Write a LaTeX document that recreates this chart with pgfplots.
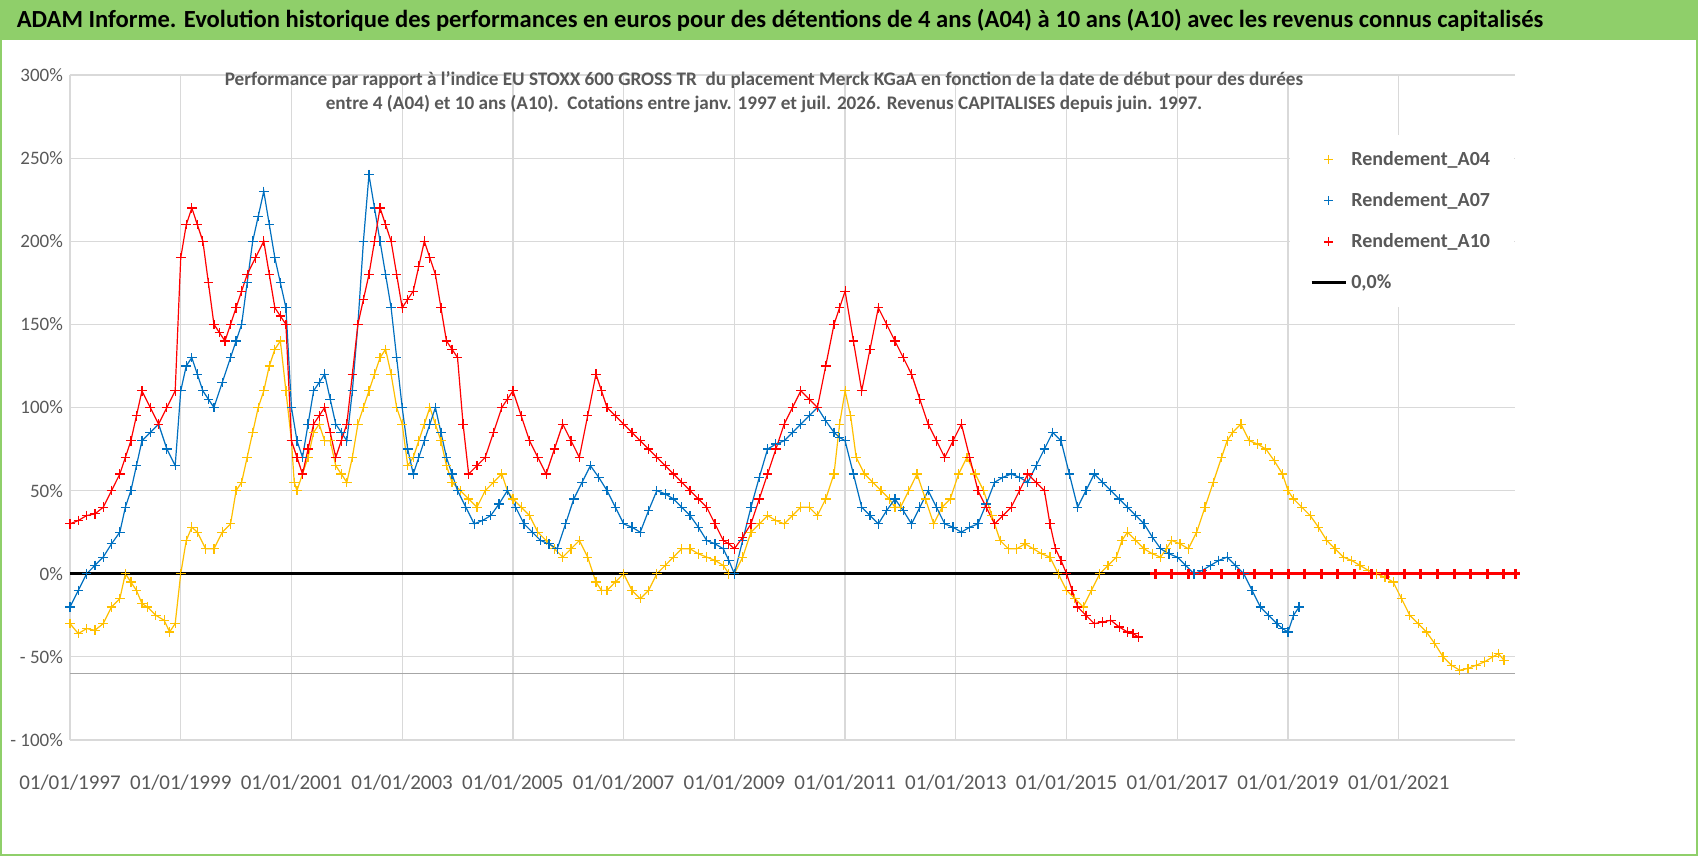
\documentclass[border=0pt]{standalone}
\usepackage{pgfplots}
\pgfplotsset{compat=1.18}
\usepackage{fontspec}
\setmainfont{Carlito}
\definecolor{cA}{HTML}{FFC000}
\definecolor{cB}{HTML}{0070C0}
\definecolor{cC}{HTML}{FF0000}
\definecolor{grn}{HTML}{8FCF6A}
\definecolor{txt}{HTML}{595959}
\pgfplotsset{markleg/.style={legend image code/.code={\draw[mark=+,mark size=2.2pt,line width=0.7pt] plot coordinates {(0.3cm,0cm)};}}}
\begin{document}
\begin{tikzpicture}[x=1pt,y=1pt]
\fill[white] (0,0) rectangle (849,428);
\fill[grn] (0,408) rectangle (849,428);
\draw[grn,line width=1pt] (0.5,0.5) rectangle (848.5,427.5);
\node[font=\fontsize{12.3}{14}\selectfont\bfseries] at (390,418) {ADAM Informe. Evolution historique des performances en euros pour des détentions de 4 ans (A04) à 10 ans (A10) avec les revenus connus capitalisés};
\begin{axis}[at={(35pt,58pt)},anchor=south west,scale only axis,width=722.5pt,height=332.5pt,
 xmin=1997,xmax=2023.1,ymin=-100,ymax=300,
 axis line style={draw=none},clip=false,
 xtick={1997,1999,...,2021},
 xticklabels={01/01/1997,01/01/1999,01/01/2001,01/01/2003,01/01/2005,01/01/2007,01/01/2009,01/01/2011,01/01/2013,01/01/2015,01/01/2017,01/01/2019,01/01/2021},
 ytick={-100,-50,0,50,100,150,200,250,300},
 yticklabels={- 100\%,- 50\%,0\%,50\%,100\%,150\%,200\%,250\%,300\%},
 grid=major,major grid style={draw=black!15,line width=0.6pt},
 tick style={draw=none},
 yticklabel style={font=\fontsize{9.5}{11}\selectfont,text=txt},
 xticklabel style={font=\fontsize{10.5}{12}\selectfont,text=txt,yshift=-14pt},
 legend style={at={(0.844,0.91)},anchor=north west,draw=none,fill=white,font=\fontsize{10}{12}\selectfont\bfseries,text=txt,row sep=8pt,inner xsep=10pt,inner ysep=6pt,cells={anchor=west}},
 legend cell align=left,
 every axis plot/.append style={line width=0.6pt},
]
\addplot[black!35,line width=0.7pt,forget plot] coordinates {(1997,-60) (2023.1,-60)};
\addplot[cA,mark=+,mark size=2.4pt,markleg] coordinates {
(1997.0,-30)(1997.15,-36)(1997.3,-33)(1997.45,-34)(1997.6,-30)(1997.75,-20)(1997.9,-15)(1998.0,0)(1998.1,-5)(1998.2,-10)(1998.3,-18)(1998.4,-20)(1998.55,-25)(1998.7,-28)(1998.8,-35)(1998.9,-30)(1999.0,0)(1999.1,20)(1999.2,28)(1999.3,25)(1999.45,15)(1999.6,15)(1999.75,25)(1999.9,30)(2000.0,50)(2000.1,55)(2000.2,70)(2000.3,85)(2000.4,100)(2000.5,110)(2000.6,125)(2000.7,135)(2000.8,140)(2000.9,110)(2001.0,80)(2001.05,55)(2001.1,50)(2001.2,60)(2001.3,70)(2001.4,85)(2001.5,90)(2001.6,80)(2001.7,80)(2001.8,65)(2001.9,60)(2002.0,55)(2002.1,70)(2002.2,90)(2002.3,100)(2002.4,110)(2002.5,120)(2002.6,130)(2002.7,135)(2002.8,120)(2002.9,100)(2003.0,90)(2003.1,65)(2003.2,70)(2003.3,80)(2003.4,90)(2003.5,100)(2003.6,90)(2003.7,80)(2003.8,65)(2003.9,55)(2004.05,50)(2004.2,45)(2004.35,40)(2004.5,50)(2004.65,55)(2004.8,60)(2004.9,50)(2005.0,45)(2005.15,40)(2005.3,35)(2005.45,25)(2005.6,20)(2005.75,15)(2005.9,10)(2006.05,15)(2006.2,20)(2006.35,10)(2006.5,-5)(2006.6,-10)(2006.7,-10)(2006.85,-5)(2007.0,0)(2007.15,-10)(2007.3,-15)(2007.45,-10)(2007.6,0)(2007.75,5)(2007.9,10)(2008.05,15)(2008.2,15)(2008.35,12)(2008.5,10)(2008.65,8)(2008.8,5)(2008.9,0)(2009.0,0)(2009.15,10)(2009.3,25)(2009.45,30)(2009.6,35)(2009.75,32)(2009.9,30)(2010.05,35)(2010.2,40)(2010.35,40)(2010.5,35)(2010.65,45)(2010.8,60)(2010.9,90)(2011.0,110)(2011.1,95)(2011.2,70)(2011.35,60)(2011.5,55)(2011.65,50)(2011.8,45)(2011.9,40)(2012.0,40)(2012.15,50)(2012.3,60)(2012.45,45)(2012.6,30)(2012.75,40)(2012.9,45)(2013.05,60)(2013.2,70)(2013.35,60)(2013.5,50)(2013.65,35)(2013.8,20)(2013.95,15)(2014.1,15)(2014.25,18)(2014.4,15)(2014.55,12)(2014.7,10)(2014.85,0)(2015.0,-10)(2015.15,-15)(2015.3,-20)(2015.45,-10)(2015.6,0)(2015.75,5)(2015.9,10)(2016.0,20)(2016.1,25)(2016.25,20)(2016.4,15)(2016.55,12)(2016.7,10)(2016.8,15)(2016.9,20)(2017.05,18)(2017.2,15)(2017.35,25)(2017.5,40)(2017.65,55)(2017.8,70)(2017.9,80)(2018.0,85)(2018.15,90)(2018.3,80)(2018.45,78)(2018.6,75)(2018.75,68)(2018.9,60)(2019.0,50)(2019.1,45)(2019.25,40)(2019.4,35)(2019.55,28)(2019.7,20)(2019.85,15)(2020.0,10)(2020.15,8)(2020.3,5)(2020.45,2)(2020.6,0)(2020.75,-2)(2020.9,-5)(2021.05,-15)(2021.2,-25)(2021.35,-30)(2021.5,-35)(2021.65,-42)(2021.8,-50)(2021.95,-55)(2022.1,-58)(2022.25,-57)(2022.4,-55)(2022.55,-53)(2022.7,-50)(2022.8,-48)(2022.9,-52)};
\addlegendentry{Rendement\_A04}
\addplot[cB,mark=+,mark size=2.4pt,markleg] coordinates {
(1997.0,-20)(1997.15,-10)(1997.3,0)(1997.45,5)(1997.6,10)(1997.75,18)(1997.9,25)(1998.0,40)(1998.1,50)(1998.2,65)(1998.3,80)(1998.45,85)(1998.6,90)(1998.75,75)(1998.9,65)(1999.0,110)(1999.1,125)(1999.2,130)(1999.3,120)(1999.4,110)(1999.5,105)(1999.6,100)(1999.75,115)(1999.9,130)(2000.0,140)(2000.1,150)(2000.2,175)(2000.3,200)(2000.4,215)(2000.5,230)(2000.6,210)(2000.7,190)(2000.8,175)(2000.9,160)(2001.0,100)(2001.1,80)(2001.2,70)(2001.3,90)(2001.4,110)(2001.5,115)(2001.6,120)(2001.7,105)(2001.8,90)(2001.9,85)(2002.0,80)(2002.1,110)(2002.2,150)(2002.3,200)(2002.4,240)(2002.5,220)(2002.6,200)(2002.7,180)(2002.8,160)(2002.9,130)(2003.0,100)(2003.1,75)(2003.2,60)(2003.3,70)(2003.4,80)(2003.5,90)(2003.6,100)(2003.7,85)(2003.8,70)(2003.9,60)(2004.0,50)(2004.15,40)(2004.3,30)(2004.45,32)(2004.6,35)(2004.75,42)(2004.9,50)(2005.05,40)(2005.2,30)(2005.35,25)(2005.5,20)(2005.65,18)(2005.8,15)(2005.95,30)(2006.1,45)(2006.25,55)(2006.4,65)(2006.55,58)(2006.7,50)(2006.85,40)(2007.0,30)(2007.15,28)(2007.3,25)(2007.45,38)(2007.6,50)(2007.75,48)(2007.9,45)(2008.05,40)(2008.2,35)(2008.35,28)(2008.5,20)(2008.65,18)(2008.8,15)(2008.9,8)(2009.0,0)(2009.15,20)(2009.3,40)(2009.45,58)(2009.6,75)(2009.75,78)(2009.9,80)(2010.05,85)(2010.2,90)(2010.35,95)(2010.5,100)(2010.65,92)(2010.8,85)(2010.9,82)(2011.0,80)(2011.15,60)(2011.3,40)(2011.45,35)(2011.6,30)(2011.75,38)(2011.9,45)(2012.05,38)(2012.2,30)(2012.35,40)(2012.5,50)(2012.65,40)(2012.8,30)(2012.95,28)(2013.1,25)(2013.25,28)(2013.4,30)(2013.55,42)(2013.7,55)(2013.85,58)(2014.0,60)(2014.15,58)(2014.3,55)(2014.45,65)(2014.6,75)(2014.75,85)(2014.9,80)(2015.05,60)(2015.2,40)(2015.35,50)(2015.5,60)(2015.65,55)(2015.8,50)(2015.95,45)(2016.1,40)(2016.25,35)(2016.4,30)(2016.55,22)(2016.7,15)(2016.85,12)(2017.0,10)(2017.15,5)(2017.3,0)(2017.45,2)(2017.6,5)(2017.75,8)(2017.9,10)(2018.05,5)(2018.2,0)(2018.35,-10)(2018.5,-20)(2018.65,-25)(2018.8,-30)(2018.9,-33)(2019.0,-35)(2019.1,-25)(2019.2,-20)};
\addlegendentry{Rendement\_A07}
\addplot[cC,mark=+,mark size=2.4pt,markleg] coordinates {
(1997.0,30)(1997.15,32)(1997.3,35)(1997.45,36)(1997.6,40)(1997.75,50)(1997.9,60)(1998.0,70)(1998.1,80)(1998.2,95)(1998.3,110)(1998.45,100)(1998.6,90)(1998.75,100)(1998.9,110)(1999.0,190)(1999.1,210)(1999.2,220)(1999.3,210)(1999.4,200)(1999.5,175)(1999.6,150)(1999.7,145)(1999.8,140)(1999.9,150)(2000.0,160)(2000.1,170)(2000.2,180)(2000.35,190)(2000.5,200)(2000.6,180)(2000.7,160)(2000.8,155)(2000.9,150)(2001.0,80)(2001.1,70)(2001.2,60)(2001.3,75)(2001.4,90)(2001.5,95)(2001.6,100)(2001.7,85)(2001.8,70)(2001.9,80)(2002.0,90)(2002.1,120)(2002.2,150)(2002.3,165)(2002.4,180)(2002.5,200)(2002.6,220)(2002.7,210)(2002.8,200)(2002.9,180)(2003.0,160)(2003.1,165)(2003.2,170)(2003.3,185)(2003.4,200)(2003.5,190)(2003.6,180)(2003.7,160)(2003.8,140)(2003.9,135)(2004.0,130)(2004.1,90)(2004.2,60)(2004.35,65)(2004.5,70)(2004.65,85)(2004.8,100)(2004.9,105)(2005.0,110)(2005.15,95)(2005.3,80)(2005.45,70)(2005.6,60)(2005.75,75)(2005.9,90)(2006.05,80)(2006.2,70)(2006.35,95)(2006.5,120)(2006.6,110)(2006.7,100)(2006.85,95)(2007.0,90)(2007.15,85)(2007.3,80)(2007.45,75)(2007.6,70)(2007.75,65)(2007.9,60)(2008.05,55)(2008.2,50)(2008.35,45)(2008.5,40)(2008.65,30)(2008.8,20)(2008.9,18)(2009.0,15)(2009.15,22)(2009.3,30)(2009.45,45)(2009.6,60)(2009.75,75)(2009.9,90)(2010.05,100)(2010.2,110)(2010.35,105)(2010.5,100)(2010.65,125)(2010.8,150)(2010.9,160)(2011.0,170)(2011.15,140)(2011.3,110)(2011.45,135)(2011.6,160)(2011.75,150)(2011.9,140)(2012.05,130)(2012.2,120)(2012.35,105)(2012.5,90)(2012.65,80)(2012.8,70)(2012.95,80)(2013.1,90)(2013.25,70)(2013.4,50)(2013.55,40)(2013.7,30)(2013.85,35)(2014.0,40)(2014.15,50)(2014.3,60)(2014.45,55)(2014.6,50)(2014.7,30)(2014.8,15)(2014.9,8)(2015.0,0)(2015.1,-10)(2015.2,-20)(2015.35,-25)(2015.5,-30)(2015.65,-29)(2015.8,-28)(2015.95,-32)(2016.1,-35)(2016.2,-36)(2016.3,-38)};
\addlegendentry{Rendement\_A10}
\addplot[cC,mark=+,mark size=2.4pt,line width=1.5pt,forget plot] coordinates {
(2016.6,0)(2016.9,0)(2017.2,0)(2017.5,0)(2017.8,0)(2018.1,0)(2018.4,0)(2018.7,0)(2019.0,0)(2019.3,0)(2019.6,0)(2019.9,0)(2020.2,0)(2020.5,0)(2020.8,0)(2021.1,0)(2021.4,0)(2021.7,0)(2022.0,0)(2022.3,0)(2022.6,0)(2022.9,0)(2023.1,0)};
\addplot[black,line width=1.6pt] coordinates {(1997,0) (2016.6,0)};
\addlegendentry{0,0\%}
\end{axis}
\node[font=\fontsize{9.6}{12}\selectfont\bfseries,text=txt,align=center] at (382,382) {Performance par rapport à l'indice EU STOXX 600 GROSS TR\ \ du placement Merck KGaA en fonction de la date de début pour des durées\\ entre 4 (A04) et 10 ans (A10).\ \ Cotations entre janv. 1997 et juil. 2026. Revenus CAPITALISES depuis juin. 1997.};
\end{tikzpicture}
\end{document}
